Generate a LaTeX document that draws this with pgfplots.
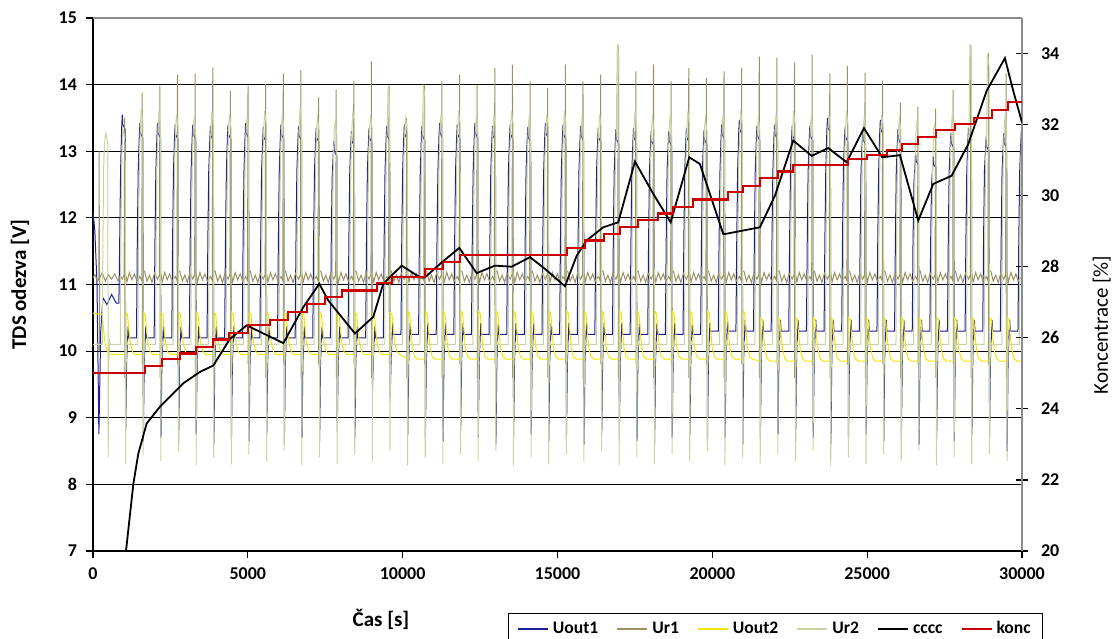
\documentclass[border=0pt]{standalone}
\usepackage{fontspec}
\setmainfont{Carlito}
\usepackage{pgfplots}
\pgfplotsset{compat=1.18}
\usetikzlibrary{calc}
\definecolor{cUoa}{RGB}{30,30,150}
\definecolor{cUra}{RGB}{155,145,100}
\definecolor{cUob}{RGB}{240,230,0}
\definecolor{cUrb}{RGB}{200,212,160}
\definecolor{ckonc}{RGB}{204,0,0}
\newcommand\tickfont{\bfseries\fontsize{9}{10}\selectfont}
\newcommand\labfont{\fontsize{10.5}{12}\selectfont}
\begin{document}
\begin{tikzpicture}
\begin{axis}[name=ax,
 scale only axis, width=464.5pt, height=266.5pt,
 xmin=0, xmax=30000, ymin=7, ymax=15,
 axis x line*=bottom, axis y line*=left,
 axis line style={black, line width=0.6pt},
 xtick={0,5000,...,30000}, ytick={7,...,15},
 extra y ticks={8,...,14}, extra y tick labels={},
 extra y tick style={grid=major},
 major grid style={black, line width=0.6pt},
 tick align=outside, major tick length=3.5pt,
 tick style={black, line width=0.6pt},
 /pgf/number format/assume math mode=true,
 /pgf/number format/1000 sep={},
 scaled x ticks=false,
 ticklabel style={font=\tickfont},
 xticklabel style={yshift=-1.5pt},
 yticklabel style={xshift=-1pt},
 every axis x label/.style={at={(axis description cs:0.31,-0.129)}, anchor=center, font=\labfont},
 every axis y label/.style={at={(axis description cs:-0.0786,0.5)}, rotate=90, anchor=center, font=\labfont},
 xlabel={\bfseries Čas [s]},
 ylabel={\bfseries TDS odezva [V]},
]
% Uout1
\addplot[cUoa, line width=0.5pt] coordinates {
(0,12.1)(60,11.8)(130,11.0)(190,8.75)(250,10.3)(320,10.8)(450,10.7)(600,10.85)(750,10.72)
(836,10.72)(861,11.6)(891,12.7)(926,13.35)(946,13.55)(961,13.4)(1041,13.33)(1056,8.8)(1086,9.85)(1136,10.37)(1156,10.2)
(1405,10.2)(1430,11.6)(1460,12.7)(1495,13.22)(1515,13.42)(1530,13.27)(1610,13.2)(1625,8.65)(1655,9.85)(1705,10.37)(1725,10.2)
(1975,10.2)(2000,11.6)(2030,12.7)(2065,13.22)(2085,13.42)(2100,13.27)(2180,13.2)(2195,8.7)(2225,9.85)(2275,10.37)(2295,10.2)
(2544,10.2)(2569,11.6)(2599,12.7)(2634,13.2)(2654,13.4)(2669,13.25)(2749,13.18)(2764,8.6)(2794,9.85)(2844,10.37)(2864,10.2)
(3113,10.2)(3138,11.6)(3168,12.7)(3203,13.2)(3223,13.4)(3238,13.25)(3318,13.18)(3333,8.75)(3363,9.85)(3413,10.37)(3433,10.2)
(3683,10.2)(3708,11.6)(3738,12.7)(3773,13.18)(3793,13.38)(3808,13.23)(3888,13.16)(3903,8.6)(3933,9.85)(3983,10.37)(4003,10.2)
(4252,10.2)(4277,11.6)(4307,12.7)(4342,13.2)(4362,13.4)(4377,13.25)(4457,13.18)(4472,8.7)(4502,9.85)(4552,10.37)(4572,10.2)
(4821,10.2)(4846,11.6)(4876,12.7)(4911,13.22)(4931,13.42)(4946,13.27)(5026,13.2)(5041,8.65)(5071,9.85)(5121,10.37)(5141,10.2)
(5390,10.2)(5415,11.6)(5445,12.7)(5480,13.16)(5500,13.36)(5515,13.21)(5595,13.14)(5610,8.75)(5640,9.85)(5690,10.37)(5710,10.2)
(5960,10.2)(5985,11.6)(6015,12.7)(6050,13.2)(6070,13.4)(6085,13.25)(6165,13.18)(6180,8.6)(6210,9.85)(6260,10.37)(6280,10.2)
(6529,10.2)(6554,11.6)(6584,12.7)(6619,13.18)(6639,13.38)(6654,13.23)(6734,13.16)(6749,8.7)(6779,9.85)(6829,10.37)(6849,10.2)
(7098,10.2)(7123,11.6)(7153,12.7)(7188,13.15)(7208,13.35)(7223,13.2)(7303,13.13)(7318,8.65)(7348,9.85)(7398,10.37)(7418,10.2)
(7668,10.2)(7693,11.6)(7723,12.6)(7758,12.95)(7778,13.15)(7793,13.0)(7873,12.93)(7888,8.8)(7918,9.85)(7968,10.37)(7988,10.2)
(8237,10.2)(8262,11.6)(8292,12.7)(8327,13.1)(8347,13.3)(8362,13.15)(8442,13.08)(8457,8.7)(8487,9.85)(8537,10.37)(8557,10.2)
(8806,10.2)(8831,11.6)(8861,12.7)(8896,13.15)(8916,13.35)(8931,13.2)(9011,13.13)(9026,9.45)(9056,9.9)(9106,10.37)(9126,10.2)
(9376,10.2)(9401,11.6)(9431,12.7)(9466,13.18)(9486,13.38)(9501,13.23)(9581,13.16)(9596,9.3)(9626,9.85)(9676,10.42)(9696,10.25)
(9945,10.25)(9970,11.6)(10000,12.7)(10035,13.2)(10055,13.4)(10070,13.25)(10150,13.18)(10165,8.75)(10195,9.85)(10245,10.42)(10265,10.25)
(10514,10.25)(10539,11.6)(10569,12.7)(10604,13.18)(10624,13.38)(10639,13.23)(10719,13.16)(10734,8.7)(10764,9.85)(10814,10.42)(10834,10.25)
(11083,10.25)(11108,11.6)(11138,12.7)(11173,13.22)(11193,13.42)(11208,13.27)(11288,13.2)(11303,8.65)(11333,9.85)(11383,10.42)(11403,10.25)
(11653,10.25)(11678,11.6)(11708,12.7)(11743,13.2)(11763,13.4)(11778,13.25)(11858,13.18)(11873,8.8)(11903,9.85)(11953,10.42)(11973,10.25)
(12222,10.25)(12247,11.6)(12277,12.7)(12312,13.22)(12332,13.42)(12347,13.27)(12427,13.2)(12442,8.7)(12472,9.85)(12522,10.42)(12542,10.25)
(12791,10.25)(12816,11.6)(12846,12.7)(12881,13.18)(12901,13.38)(12916,13.23)(12996,13.16)(13011,8.6)(13041,9.85)(13091,10.42)(13111,10.25)
(13361,10.25)(13386,11.6)(13416,12.7)(13451,13.2)(13471,13.4)(13486,13.25)(13566,13.18)(13581,8.7)(13611,9.85)(13661,10.42)(13681,10.25)
(13930,10.25)(13955,11.6)(13985,12.7)(14020,13.16)(14040,13.36)(14055,13.21)(14135,13.14)(14150,8.75)(14180,9.85)(14230,10.42)(14250,10.25)
(14499,10.25)(14524,11.6)(14554,12.7)(14589,13.22)(14609,13.42)(14624,13.27)(14704,13.2)(14719,8.65)(14749,9.85)(14799,10.42)(14819,10.25)
(15069,10.25)(15094,11.6)(15124,12.7)(15159,13.2)(15179,13.4)(15194,13.25)(15274,13.18)(15289,8.7)(15319,9.85)(15369,10.42)(15389,10.25)
(15638,10.25)(15663,11.6)(15693,12.7)(15728,13.18)(15748,13.38)(15763,13.23)(15843,13.16)(15858,8.6)(15888,9.85)(15938,10.42)(15958,10.25)
(16207,10.25)(16232,11.6)(16262,12.7)(16297,13.15)(16317,13.35)(16332,13.2)(16412,13.13)(16427,8.75)(16457,9.85)(16507,10.42)(16527,10.25)
(16776,10.25)(16801,11.6)(16831,12.7)(16866,13.13)(16886,13.33)(16901,13.18)(16981,13.11)(16996,8.7)(17026,9.85)(17076,10.42)(17096,10.25)
(17346,10.25)(17371,11.6)(17401,12.7)(17436,13.15)(17456,13.35)(17471,13.2)(17551,13.13)(17566,8.65)(17596,9.85)(17646,10.42)(17666,10.25)
(17915,10.25)(17940,11.6)(17970,12.7)(18005,13.1)(18025,13.3)(18040,13.15)(18120,13.08)(18135,8.6)(18165,9.85)(18215,10.42)(18235,10.25)
(18484,10.25)(18509,11.6)(18539,12.7)(18574,13.1)(18594,13.3)(18609,13.15)(18689,13.08)(18704,8.7)(18734,9.85)(18784,10.42)(18804,10.25)
(19054,10.25)(19079,11.6)(19109,12.7)(19144,13.15)(19164,13.35)(19179,13.2)(19259,13.13)(19274,8.75)(19304,9.85)(19354,10.42)(19374,10.25)
(19623,10.25)(19648,11.6)(19678,12.7)(19713,13.12)(19733,13.32)(19748,13.17)(19828,13.1)(19843,8.65)(19873,9.85)(19923,10.42)(19943,10.3)
(20192,10.3)(20217,11.6)(20247,12.7)(20282,13.2)(20302,13.4)(20317,13.25)(20397,13.18)(20412,8.7)(20442,9.9)(20492,10.47)(20512,10.3)
(20762,10.3)(20787,11.6)(20817,12.7)(20852,13.27)(20872,13.47)(20887,13.32)(20967,13.25)(20982,8.6)(21012,9.9)(21062,10.47)(21082,10.3)
(21331,10.3)(21356,11.6)(21386,12.7)(21421,13.18)(21441,13.38)(21456,13.23)(21536,13.16)(21551,8.7)(21581,9.9)(21631,10.47)(21651,10.3)
(21900,10.3)(21925,11.6)(21955,12.7)(21990,13.2)(22010,13.4)(22025,13.25)(22105,13.18)(22120,8.75)(22150,9.9)(22200,10.47)(22220,10.3)
(22469,10.3)(22494,11.6)(22524,12.7)(22559,13.18)(22579,13.38)(22594,13.23)(22674,13.16)(22689,8.65)(22719,9.9)(22769,10.47)(22789,10.3)
(23039,10.3)(23064,11.6)(23094,12.7)(23129,13.18)(23149,13.38)(23164,13.23)(23244,13.16)(23259,8.7)(23289,9.9)(23339,10.47)(23359,10.3)
(23608,10.3)(23633,11.6)(23663,12.7)(23698,13.3)(23718,13.5)(23733,13.35)(23813,13.28)(23828,8.6)(23858,9.9)(23908,10.47)(23928,10.3)
(24177,10.3)(24202,11.6)(24232,12.7)(24267,13.16)(24287,13.36)(24302,13.21)(24382,13.14)(24397,8.7)(24427,9.9)(24477,10.47)(24497,10.3)
(24747,10.3)(24772,11.6)(24802,12.7)(24837,13.12)(24857,13.32)(24872,13.17)(24952,13.1)(24967,8.75)(24997,9.9)(25047,10.47)(25067,10.3)
(25316,10.3)(25341,11.6)(25371,12.7)(25406,13.27)(25426,13.47)(25441,13.32)(25521,13.25)(25536,8.65)(25566,9.9)(25616,10.47)(25636,10.3)
(25885,10.3)(25910,11.6)(25940,12.7)(25975,13.13)(25995,13.33)(26010,13.18)(26090,13.11)(26105,8.7)(26135,9.9)(26185,10.47)(26205,10.3)
(26455,10.3)(26480,11.6)(26510,12.5)(26545,12.8)(26565,12.97)(26580,12.85)(26660,12.8)(26675,8.6)(26705,9.9)(26755,10.47)(26775,10.3)
(27024,10.3)(27049,11.6)(27079,12.5)(27114,12.75)(27134,12.92)(27149,12.8)(27229,12.75)(27244,8.7)(27274,9.9)(27324,10.47)(27344,10.3)
(27593,10.3)(27618,11.6)(27648,12.7)(27683,13.07)(27703,13.27)(27718,13.12)(27798,13.05)(27813,8.65)(27843,9.9)(27893,10.47)(27913,10.3)
(28162,10.3)(28187,11.6)(28217,12.7)(28252,13.15)(28272,13.35)(28287,13.2)(28367,13.13)(28382,8.75)(28412,9.9)(28462,10.47)(28482,10.3)
(28732,10.3)(28757,11.6)(28787,12.7)(28822,13.02)(28842,13.22)(28857,13.07)(28937,13.0)(28952,8.7)(28982,9.9)(29032,10.47)(29052,10.3)
(29301,10.3)(29326,11.6)(29356,12.7)(29391,13.07)(29411,13.27)(29426,13.12)(29506,13.05)(29521,8.5)(29551,9.9)(29601,10.47)(29621,10.3)
(29870,10.3)(29895,11.6)(29925,12.7)(29960,13.12)(29980,13.32)(29995,13.17)(30065,13.1)
};
% Ur1
\addplot[cUra, line width=0.5pt] coordinates {
(0,11.1)(60,11.15)(140,11.05)(190,11.1)(200,13.0)(207,10.0)(215,11.1)(300,11.18)(400,11.05)(500,11.15)(600,11.08)(700,11.16)(800,11.06)(900,11.12)
(946,11.08)(1006,11.15)(1021,13.5)(1028,9.6)(1038,11.2)(1096,11.04)(1176,11.18)(1256,11.07)(1336,11.16)(1416,11.05)
(1515,11.12)(1575,11.06)(1590,13.88)(1597,9.8)(1607,11.2)(1665,11.2)(1745,11.05)(1825,11.14)(1905,11.03)(1985,11.17)
(2085,11.08)(2145,11.15)(2160,13.98)(2167,9.6)(2177,11.2)(2235,11.04)(2315,11.18)(2395,11.07)(2475,11.16)(2555,11.05)
(2654,11.12)(2714,11.06)(2729,14.15)(2736,9.8)(2746,11.2)(2804,11.2)(2884,11.05)(2964,11.14)(3044,11.03)(3124,11.17)
(3223,11.08)(3283,11.15)(3298,14.17)(3305,9.6)(3315,11.2)(3373,11.04)(3453,11.18)(3533,11.07)(3613,11.16)(3693,11.05)
(3793,11.12)(3853,11.06)(3868,14.26)(3875,9.8)(3885,11.2)(3943,11.2)(4023,11.05)(4103,11.14)(4183,11.03)(4263,11.17)
(4362,11.08)(4422,11.15)(4437,13.91)(4444,9.6)(4454,11.2)(4512,11.04)(4592,11.18)(4672,11.07)(4752,11.16)(4832,11.05)
(4931,11.12)(4991,11.06)(5006,13.98)(5013,9.8)(5023,11.2)(5081,11.2)(5161,11.05)(5241,11.14)(5321,11.03)(5401,11.17)
(5500,11.08)(5560,11.15)(5575,14.01)(5582,9.6)(5592,11.2)(5650,11.04)(5730,11.18)(5810,11.07)(5890,11.16)(5970,11.05)
(6070,11.12)(6130,11.06)(6145,14.17)(6152,9.8)(6162,11.2)(6220,11.2)(6300,11.05)(6380,11.14)(6460,11.03)(6540,11.17)
(6639,11.08)(6699,11.15)(6714,14.22)(6721,9.6)(6731,11.2)(6789,11.04)(6869,11.18)(6949,11.07)(7029,11.16)(7109,11.05)
(7208,11.12)(7268,11.06)(7283,13.81)(7290,9.8)(7300,11.2)(7358,11.2)(7438,11.05)(7518,11.14)(7598,11.03)(7678,11.17)
(7778,11.08)(7838,11.15)(7853,13.93)(7860,9.6)(7870,11.2)(7928,11.04)(8008,11.18)(8088,11.07)(8168,11.16)(8248,11.05)
(8347,11.12)(8407,11.06)(8422,14.05)(8429,9.8)(8439,11.2)(8497,11.2)(8577,11.05)(8657,11.14)(8737,11.03)(8817,11.17)
(8916,11.08)(8976,11.15)(8991,14.35)(8998,9.6)(9008,11.2)(9066,11.04)(9146,11.18)(9226,11.07)(9306,11.16)(9386,11.05)
(9486,11.12)(9546,11.06)(9561,13.98)(9568,9.8)(9578,11.2)(9636,11.2)(9716,11.05)(9796,11.14)(9876,11.03)(9956,11.17)
(10055,11.08)(10115,11.15)(10130,13.5)(10137,9.6)(10147,11.2)(10205,11.04)(10285,11.18)(10365,11.07)(10445,11.16)(10525,11.05)
(10624,11.12)(10684,11.06)(10699,14.0)(10706,9.8)(10716,11.2)(10774,11.2)(10854,11.05)(10934,11.14)(11014,11.03)(11094,11.17)
(11193,11.08)(11253,11.15)(11268,14.05)(11275,9.6)(11285,11.2)(11343,11.04)(11423,11.18)(11503,11.07)(11583,11.16)(11663,11.05)
(11763,11.12)(11823,11.06)(11838,14.15)(11845,9.8)(11855,11.2)(11913,11.2)(11993,11.05)(12073,11.14)(12153,11.03)(12233,11.17)
(12332,11.08)(12392,11.15)(12407,14.0)(12414,9.6)(12424,11.2)(12482,11.04)(12562,11.18)(12642,11.07)(12722,11.16)(12802,11.05)
(12901,11.12)(12961,11.06)(12976,14.25)(12983,9.8)(12993,11.2)(13051,11.2)(13131,11.05)(13211,11.14)(13291,11.03)(13371,11.17)
(13471,11.08)(13531,11.15)(13546,14.3)(13553,9.6)(13563,11.2)(13621,11.04)(13701,11.18)(13781,11.07)(13861,11.16)(13941,11.05)
(14040,11.12)(14100,11.06)(14115,14.05)(14122,9.8)(14132,11.2)(14190,11.2)(14270,11.05)(14350,11.14)(14430,11.03)(14510,11.17)
(14609,11.08)(14669,11.15)(14684,13.95)(14691,9.6)(14701,11.2)(14759,11.04)(14839,11.18)(14919,11.07)(14999,11.16)(15079,11.05)
(15179,11.12)(15239,11.06)(15254,14.3)(15261,9.8)(15271,11.2)(15329,11.2)(15409,11.05)(15489,11.14)(15569,11.03)(15649,11.17)
(15748,11.08)(15808,11.15)(15823,14.05)(15830,9.6)(15840,11.2)(15898,11.04)(15978,11.18)(16058,11.07)(16138,11.16)(16218,11.05)
(16317,11.12)(16377,11.06)(16392,14.15)(16399,9.8)(16409,11.2)(16467,11.2)(16547,11.05)(16627,11.14)(16707,11.03)(16787,11.17)
(16886,11.08)(16946,11.15)(16961,14.6)(16968,9.6)(16978,11.2)(17036,11.04)(17116,11.18)(17196,11.07)(17276,11.16)(17356,11.05)
(17456,11.12)(17516,11.06)(17531,14.2)(17538,9.8)(17548,11.2)(17606,11.2)(17686,11.05)(17766,11.14)(17846,11.03)(17926,11.17)
(18025,11.08)(18085,11.15)(18100,14.3)(18107,9.6)(18117,11.2)(18175,11.04)(18255,11.18)(18335,11.07)(18415,11.16)(18495,11.05)
(18594,11.12)(18654,11.06)(18669,14.05)(18676,9.8)(18686,11.2)(18744,11.2)(18824,11.05)(18904,11.14)(18984,11.03)(19064,11.17)
(19164,11.08)(19224,11.15)(19239,14.25)(19246,9.6)(19256,11.2)(19314,11.04)(19394,11.18)(19474,11.07)(19554,11.16)(19634,11.05)
(19733,11.12)(19793,11.06)(19808,14.1)(19815,9.8)(19825,11.2)(19883,11.2)(19963,11.05)(20043,11.14)(20123,11.03)(20203,11.17)
(20302,11.08)(20362,11.15)(20377,14.2)(20384,9.6)(20394,11.2)(20452,11.04)(20532,11.18)(20612,11.07)(20692,11.16)(20772,11.05)
(20872,11.12)(20932,11.06)(20947,14.25)(20954,9.8)(20964,11.2)(21022,11.2)(21102,11.05)(21182,11.14)(21262,11.03)(21342,11.17)
(21441,11.08)(21501,11.15)(21516,14.42)(21523,9.6)(21533,11.2)(21591,11.04)(21671,11.18)(21751,11.07)(21831,11.16)(21911,11.05)
(22010,11.12)(22070,11.06)(22085,14.4)(22092,9.8)(22102,11.2)(22160,11.2)(22240,11.05)(22320,11.14)(22400,11.03)(22480,11.17)
(22579,11.08)(22639,11.15)(22654,14.33)(22661,9.6)(22671,11.2)(22729,11.04)(22809,11.18)(22889,11.07)(22969,11.16)(23049,11.05)
(23149,11.12)(23209,11.06)(23224,14.45)(23231,9.8)(23241,11.2)(23299,11.2)(23379,11.05)(23459,11.14)(23539,11.03)(23619,11.17)
(23718,11.08)(23778,11.15)(23793,14.17)(23800,9.6)(23810,11.2)(23868,11.04)(23948,11.18)(24028,11.07)(24108,11.16)(24188,11.05)
(24287,11.12)(24347,11.06)(24362,14.28)(24369,9.8)(24379,11.2)(24437,11.2)(24517,11.05)(24597,11.14)(24677,11.03)(24757,11.17)
(24857,11.08)(24917,11.15)(24932,14.18)(24939,9.6)(24949,11.2)(25007,11.04)(25087,11.18)(25167,11.07)(25247,11.16)(25327,11.05)
(25426,11.12)(25486,11.06)(25501,14.06)(25508,9.8)(25518,11.2)(25576,11.2)(25656,11.05)(25736,11.14)(25816,11.03)(25896,11.17)
(25995,11.08)(26055,11.15)(26070,13.73)(26077,9.6)(26087,11.2)(26145,11.04)(26225,11.18)(26305,11.07)(26385,11.16)(26465,11.05)
(26565,11.12)(26625,11.06)(26640,13.67)(26647,9.8)(26657,11.2)(26715,11.2)(26795,11.05)(26875,11.14)(26955,11.03)(27035,11.17)
(27134,11.08)(27194,11.15)(27209,13.64)(27216,9.6)(27226,11.2)(27284,11.04)(27364,11.18)(27444,11.07)(27524,11.16)(27604,11.05)
(27703,11.12)(27763,11.06)(27778,13.92)(27785,9.8)(27795,11.2)(27853,11.2)(27933,11.05)(28013,11.14)(28093,11.03)(28173,11.17)
(28272,11.08)(28332,11.15)(28347,14.6)(28354,9.6)(28364,11.2)(28422,11.04)(28502,11.18)(28582,11.07)(28662,11.16)(28742,11.05)
(28842,11.12)(28902,11.06)(28917,14.47)(28924,9.8)(28934,11.2)(28992,11.2)(29072,11.05)(29152,11.14)(29232,11.03)(29312,11.17)
(29411,11.08)(29471,11.15)(29486,14.17)(29493,9.6)(29503,11.2)(29561,11.04)(29641,11.18)(29721,11.07)(29801,11.16)(29881,11.05)
(29980,11.12)(29990,13.32)(29995,9.8)(30000,11.1)
};
% Uout2
\addplot[cUob, line width=0.5pt] coordinates {
(0,10.57)(300,10.55)(340,10.33)(390,10.12)(460,9.99)(550,9.95)
(1056,9.95)(1064,10.58)(1116,10.55)(1156,10.33)(1206,10.12)(1276,9.99)(1366,9.95)
(1625,9.95)(1633,10.58)(1685,10.55)(1725,10.33)(1775,10.12)(1845,9.99)(1935,9.95)
(2195,9.95)(2203,10.58)(2255,10.55)(2295,10.33)(2345,10.12)(2415,9.99)(2505,9.95)
(2764,9.95)(2772,10.58)(2824,10.55)(2864,10.33)(2914,10.12)(2984,9.99)(3074,9.95)
(3333,9.95)(3341,10.58)(3393,10.55)(3433,10.33)(3483,10.12)(3553,9.99)(3643,9.95)
(3903,9.95)(3911,10.58)(3963,10.55)(4003,10.33)(4053,10.12)(4123,9.99)(4213,9.95)
(4472,9.95)(4480,10.58)(4532,10.55)(4572,10.33)(4622,10.12)(4692,9.99)(4782,9.95)
(5041,9.95)(5049,10.58)(5101,10.55)(5141,10.33)(5191,10.12)(5261,9.99)(5351,9.95)
(5610,9.95)(5618,10.58)(5670,10.55)(5710,10.33)(5760,10.12)(5830,9.99)(5920,9.95)
(6180,9.95)(6188,10.58)(6240,10.55)(6280,10.33)(6330,10.12)(6400,9.99)(6490,9.95)
(6749,9.95)(6757,10.58)(6809,10.55)(6849,10.33)(6899,10.12)(6969,9.99)(7059,9.95)
(7318,9.95)(7326,10.58)(7378,10.55)(7418,10.33)(7468,10.12)(7538,9.99)(7628,9.95)
(7888,9.95)(7896,10.58)(7948,10.55)(7988,10.33)(8038,10.12)(8108,9.99)(8198,9.95)
(8457,9.95)(8465,10.58)(8517,10.55)(8557,10.33)(8607,10.12)(8677,9.99)(8767,9.95)
(9026,9.95)(9034,10.58)(9086,10.55)(9126,10.33)(9176,10.12)(9246,9.99)(9336,9.95)
(9596,9.95)(9604,10.58)(9656,10.55)(9696,10.33)(9746,10.12)(9816,9.99)(9906,9.95)
(10165,9.88)(10173,10.6)(10225,10.57)(10265,10.35)(10315,10.05)(10385,9.92)(10475,9.88)
(10734,9.88)(10742,10.6)(10794,10.57)(10834,10.35)(10884,10.05)(10954,9.92)(11044,9.88)
(11303,9.88)(11311,10.6)(11363,10.57)(11403,10.35)(11453,10.05)(11523,9.92)(11613,9.88)
(11873,9.88)(11881,10.6)(11933,10.57)(11973,10.35)(12023,10.05)(12093,9.92)(12183,9.88)
(12442,9.88)(12450,10.6)(12502,10.57)(12542,10.35)(12592,10.05)(12662,9.92)(12752,9.88)
(13011,9.88)(13019,10.6)(13071,10.57)(13111,10.35)(13161,10.05)(13231,9.92)(13321,9.88)
(13581,9.88)(13589,10.6)(13641,10.57)(13681,10.35)(13731,10.05)(13801,9.92)(13891,9.88)
(14150,9.88)(14158,10.6)(14210,10.57)(14250,10.35)(14300,10.05)(14370,9.92)(14460,9.88)
(14719,9.88)(14727,10.6)(14779,10.57)(14819,10.35)(14869,10.05)(14939,9.92)(15029,9.88)
(15289,9.88)(15297,10.6)(15349,10.57)(15389,10.35)(15439,10.05)(15509,9.92)(15599,9.88)
(15858,9.88)(15866,10.6)(15918,10.57)(15958,10.35)(16008,10.05)(16078,9.92)(16168,9.88)
(16427,9.88)(16435,10.6)(16487,10.57)(16527,10.35)(16577,10.05)(16647,9.92)(16737,9.88)
(16996,9.88)(17004,10.6)(17056,10.57)(17096,10.35)(17146,10.05)(17216,9.92)(17306,9.88)
(17566,9.88)(17574,10.6)(17626,10.57)(17666,10.35)(17716,10.05)(17786,9.92)(17876,9.88)
(18135,9.88)(18143,10.6)(18195,10.57)(18235,10.35)(18285,10.05)(18355,9.92)(18445,9.88)
(18704,9.88)(18712,10.6)(18764,10.57)(18804,10.35)(18854,10.05)(18924,9.92)(19014,9.88)
(19274,9.88)(19282,10.6)(19334,10.57)(19374,10.35)(19424,10.05)(19494,9.92)(19584,9.88)
(19843,9.88)(19851,10.6)(19903,10.57)(19943,10.35)(19993,10.05)(20063,9.92)(20153,9.88)
(20412,9.88)(20420,10.6)(20472,10.57)(20512,10.35)(20562,10.05)(20632,9.92)(20722,9.88)
(20982,9.88)(20990,10.6)(21042,10.57)(21082,10.35)(21132,10.05)(21202,9.92)(21292,9.88)
(21551,9.85)(21559,10.5)(21611,10.47)(21651,10.25)(21701,10.02)(21771,9.89)(21861,9.85)
(22120,9.85)(22128,10.5)(22180,10.47)(22220,10.25)(22270,10.02)(22340,9.89)(22430,9.85)
(22689,9.85)(22697,10.5)(22749,10.47)(22789,10.25)(22839,10.02)(22909,9.89)(22999,9.85)
(23259,9.85)(23267,10.5)(23319,10.47)(23359,10.25)(23409,10.02)(23479,9.89)(23569,9.85)
(23828,9.85)(23836,10.5)(23888,10.47)(23928,10.25)(23978,10.02)(24048,9.89)(24138,9.85)
(24397,9.85)(24405,10.5)(24457,10.47)(24497,10.25)(24547,10.02)(24617,9.89)(24707,9.85)
(24967,9.85)(24975,10.5)(25027,10.47)(25067,10.25)(25117,10.02)(25187,9.89)(25277,9.85)
(25536,9.85)(25544,10.5)(25596,10.47)(25636,10.25)(25686,10.02)(25756,9.89)(25846,9.85)
(26105,9.85)(26113,10.5)(26165,10.47)(26205,10.25)(26255,10.02)(26325,9.89)(26415,9.85)
(26675,9.85)(26683,10.5)(26735,10.47)(26775,10.25)(26825,10.02)(26895,9.89)(26985,9.85)
(27244,9.85)(27252,10.5)(27304,10.47)(27344,10.25)(27394,10.02)(27464,9.89)(27554,9.85)
(27813,9.85)(27821,10.5)(27873,10.47)(27913,10.25)(27963,10.02)(28033,9.89)(28123,9.85)
(28382,9.85)(28390,10.5)(28442,10.47)(28482,10.25)(28532,10.02)(28602,9.89)(28692,9.85)
(28952,9.85)(28960,10.5)(29012,10.47)(29052,10.25)(29102,10.02)(29172,9.89)(29262,9.85)
(29521,9.85)(29529,10.5)(29581,10.47)(29621,10.25)(29671,10.02)(29741,9.89)(29831,9.85)
(30000,9.85)
};
% Ur2
\addplot[cUrb, line width=0.5pt] coordinates {
(0,10.1)(300,10.1)(320,11.7)(350,12.9)(390,13.2)(420,13.27)(480,13.1)(490,8.4)(503,9.7)(535,10.15)(560,10.1)
(881,10.1)(901,11.7)(931,12.9)(961,13.35)(991,13.3)(1041,13.1)(1051,8.3)(1064,9.7)(1096,10.15)(1121,10.1)
(1450,10.1)(1470,11.7)(1500,12.9)(1530,13.35)(1560,13.65)(1610,13.45)(1620,8.45)(1633,9.7)(1665,10.15)(1690,10.1)
(2020,10.1)(2040,11.7)(2070,12.9)(2100,13.35)(2130,13.6)(2180,13.4)(2190,8.35)(2203,9.7)(2235,10.15)(2260,10.1)
(2589,10.1)(2609,11.7)(2639,12.9)(2669,13.35)(2699,13.55)(2749,13.35)(2759,8.5)(2772,9.7)(2804,10.15)(2829,10.1)
(3158,10.1)(3178,11.7)(3208,12.9)(3238,13.35)(3268,13.5)(3318,13.3)(3328,8.28)(3341,9.7)(3373,10.15)(3398,10.1)
(3728,10.1)(3748,11.7)(3778,12.9)(3808,13.35)(3838,13.6)(3888,13.4)(3898,8.4)(3911,9.7)(3943,10.15)(3968,10.1)
(4297,10.1)(4317,11.7)(4347,12.9)(4377,13.35)(4407,13.55)(4457,13.35)(4467,8.3)(4480,9.7)(4512,10.15)(4537,10.1)
(4866,10.1)(4886,11.7)(4916,12.9)(4946,13.35)(4976,13.5)(5026,13.3)(5036,8.45)(5049,9.7)(5081,10.15)(5106,10.1)
(5435,10.1)(5455,11.7)(5485,12.9)(5515,13.35)(5545,13.6)(5595,13.4)(5605,8.35)(5618,9.7)(5650,10.15)(5675,10.1)
(6005,10.1)(6025,11.7)(6055,12.9)(6085,13.35)(6115,13.55)(6165,13.35)(6175,8.5)(6188,9.7)(6220,10.15)(6245,10.1)
(6574,10.1)(6594,11.7)(6624,12.9)(6654,13.35)(6684,13.65)(6734,13.45)(6744,8.28)(6757,9.7)(6789,10.15)(6814,10.1)
(7143,10.1)(7163,11.7)(7193,12.9)(7223,13.35)(7253,13.5)(7303,13.3)(7313,8.4)(7326,9.7)(7358,10.15)(7383,10.1)
(7713,10.1)(7733,11.7)(7763,12.9)(7793,13.35)(7823,13.45)(7873,13.25)(7883,8.3)(7896,9.7)(7928,10.15)(7953,10.1)
(8282,10.1)(8302,11.7)(8332,12.9)(8362,13.35)(8392,13.6)(8442,13.4)(8452,8.45)(8465,9.7)(8497,10.15)(8522,10.1)
(8851,10.1)(8871,11.7)(8901,12.9)(8931,13.35)(8961,13.55)(9011,13.35)(9021,8.35)(9034,9.7)(9066,10.15)(9091,10.1)
(9421,10.1)(9441,11.7)(9471,12.9)(9501,13.35)(9531,13.98)(9581,13.78)(9591,8.5)(9604,9.7)(9636,10.15)(9661,10.1)
(9990,10.1)(10010,11.7)(10040,12.9)(10070,13.35)(10100,13.5)(10150,13.3)(10160,8.28)(10173,9.7)(10205,10.15)(10230,10.1)
(10559,10.1)(10579,11.7)(10609,12.9)(10639,13.35)(10669,14.0)(10719,13.8)(10729,8.4)(10742,9.7)(10774,10.15)(10799,10.1)
(11128,10.1)(11148,11.7)(11178,12.9)(11208,13.35)(11238,13.55)(11288,13.35)(11298,8.3)(11311,9.7)(11343,10.15)(11368,10.1)
(11698,10.1)(11718,11.7)(11748,12.9)(11778,13.35)(11808,13.6)(11858,13.4)(11868,8.45)(11881,9.7)(11913,10.15)(11938,10.1)
(12267,10.1)(12287,11.7)(12317,12.9)(12347,13.35)(12377,13.5)(12427,13.3)(12437,8.35)(12450,9.7)(12482,10.15)(12507,10.1)
(12836,10.1)(12856,11.7)(12886,12.9)(12916,13.35)(12946,13.55)(12996,13.35)(13006,8.5)(13019,9.7)(13051,10.15)(13076,10.1)
(13406,10.1)(13426,11.7)(13456,12.9)(13486,13.35)(13516,13.6)(13566,13.4)(13576,8.28)(13589,9.7)(13621,10.15)(13646,10.1)
(13975,10.1)(13995,11.7)(14025,12.9)(14055,13.35)(14085,13.5)(14135,13.3)(14145,8.4)(14158,9.7)(14190,10.15)(14215,10.1)
(14544,10.1)(14564,11.7)(14594,12.9)(14624,13.35)(14654,13.55)(14704,13.35)(14714,8.3)(14727,9.7)(14759,10.15)(14784,10.1)
(15114,10.1)(15134,11.7)(15164,12.9)(15194,13.35)(15224,13.6)(15274,13.4)(15284,8.45)(15297,9.7)(15329,10.15)(15354,10.1)
(15683,10.1)(15703,11.7)(15733,12.9)(15763,13.35)(15793,13.5)(15843,13.3)(15853,8.35)(15866,9.7)(15898,10.15)(15923,10.1)
(16252,10.1)(16272,11.7)(16302,12.9)(16332,13.35)(16362,13.55)(16412,13.35)(16422,8.5)(16435,9.7)(16467,10.15)(16492,10.1)
(16821,10.1)(16841,11.7)(16871,12.9)(16901,13.35)(16931,14.6)(16981,14.4)(16991,8.28)(17004,9.7)(17036,10.15)(17061,10.1)
(17391,10.1)(17411,11.7)(17441,12.9)(17471,13.35)(17501,13.6)(17551,13.4)(17561,8.4)(17574,9.7)(17606,10.15)(17631,10.1)
(17960,10.1)(17980,11.7)(18010,12.9)(18040,13.35)(18070,13.5)(18120,13.3)(18130,8.3)(18143,9.7)(18175,10.15)(18200,10.1)
(18529,10.1)(18549,11.7)(18579,12.9)(18609,13.35)(18639,13.55)(18689,13.35)(18699,8.45)(18712,9.7)(18744,10.15)(18769,10.1)
(19099,10.1)(19119,11.7)(19149,12.9)(19179,13.35)(19209,13.6)(19259,13.4)(19269,8.35)(19282,9.7)(19314,10.15)(19339,10.1)
(19668,10.1)(19688,11.7)(19718,12.9)(19748,13.35)(19778,13.5)(19828,13.3)(19838,8.5)(19851,9.7)(19883,10.15)(19908,10.1)
(20237,10.1)(20257,11.7)(20287,12.9)(20317,13.35)(20347,13.55)(20397,13.35)(20407,8.28)(20420,9.7)(20452,10.15)(20477,10.1)
(20807,10.1)(20827,11.7)(20857,12.9)(20887,13.35)(20917,13.6)(20967,13.4)(20977,8.4)(20990,9.7)(21022,10.15)(21047,10.1)
(21376,10.1)(21396,11.7)(21426,12.9)(21456,13.35)(21486,13.5)(21536,13.3)(21546,8.3)(21559,9.7)(21591,10.15)(21616,10.1)
(21945,10.1)(21965,11.7)(21995,12.9)(22025,13.35)(22055,13.55)(22105,13.35)(22115,8.45)(22128,9.7)(22160,10.15)(22185,10.1)
(22514,10.1)(22534,11.7)(22564,12.9)(22594,13.35)(22624,13.6)(22674,13.4)(22684,8.35)(22697,9.7)(22729,10.15)(22754,10.1)
(23084,10.1)(23104,11.7)(23134,12.9)(23164,13.35)(23194,13.5)(23244,13.3)(23254,8.5)(23267,9.7)(23299,10.15)(23324,10.1)
(23653,10.1)(23673,11.7)(23703,12.9)(23733,13.35)(23763,13.55)(23813,13.35)(23823,8.28)(23836,9.7)(23868,10.15)(23893,10.1)
(24222,10.1)(24242,11.7)(24272,12.9)(24302,13.35)(24332,13.6)(24382,13.4)(24392,8.4)(24405,9.7)(24437,10.15)(24462,10.1)
(24792,10.1)(24812,11.7)(24842,12.9)(24872,13.35)(24902,13.5)(24952,13.3)(24962,8.3)(24975,9.7)(25007,10.15)(25032,10.1)
(25361,10.1)(25381,11.7)(25411,12.9)(25441,13.35)(25471,13.55)(25521,13.35)(25531,8.45)(25544,9.7)(25576,10.15)(25601,10.1)
(25930,10.1)(25950,11.7)(25980,12.9)(26010,13.35)(26040,13.5)(26090,13.3)(26100,8.35)(26113,9.7)(26145,10.15)(26170,10.1)
(26500,10.1)(26520,11.7)(26550,12.9)(26580,13.35)(26610,13.45)(26660,13.25)(26670,8.5)(26683,9.7)(26715,10.15)(26740,10.1)
(27069,10.1)(27089,11.7)(27119,12.9)(27149,13.35)(27179,13.4)(27229,13.2)(27239,8.28)(27252,9.7)(27284,10.15)(27309,10.1)
(27638,10.1)(27658,11.7)(27688,12.9)(27718,13.35)(27748,13.55)(27798,13.35)(27808,8.4)(27821,9.7)(27853,10.15)(27878,10.1)
(28207,10.1)(28227,11.7)(28257,12.9)(28287,13.35)(28317,14.6)(28367,14.4)(28377,8.3)(28390,9.7)(28422,10.15)(28447,10.1)
(28777,10.1)(28797,11.7)(28827,12.9)(28857,13.35)(28887,14.47)(28937,14.27)(28947,8.45)(28960,9.7)(28992,10.15)(29017,10.1)
(29346,10.1)(29366,11.7)(29396,12.9)(29426,13.35)(29456,13.55)(29506,13.35)(29516,8.35)(29529,9.7)(29561,10.15)(29586,10.1)
(29915,10.1)(29935,11.7)(29965,12.9)(29995,13.35)(30025,13.5)
};
\end{axis}
\begin{axis}[
 scale only axis, width=464.5pt, height=266.5pt,
 at={(ax.south west)}, anchor=south west,
 xmin=0, xmax=30000, ymin=20, ymax=35,
 axis y line*=right, axis x line*=top,
 axis line style={black!45, line width=0.7pt},
 xtick=\empty,
 ytick={20,22,...,34},
 tick align=center, major tick length=6pt,
 ytick style={black, line width=0.6pt},
 /pgf/number format/assume math mode=true,
 yticklabel style={font=\tickfont, xshift=3pt},
 every axis y label/.style={at={(axis description cs:1.0858,0.424)}, rotate=90, anchor=center, font=\labfont},
 ylabel={Koncentrace [\%]},
 legend image code/.code={\draw[#1, line width=1pt] (0pt,0pt) -- (15pt,0pt);},
 legend style={at={(axis description cs:0.447,-0.116)}, anchor=north west,
   draw=black, line width=0.6pt, font=\bfseries\fontsize{8.8}{10}\selectfont,
   inner xsep=4pt, inner ysep=1.5pt, legend columns=6,
   nodes={text height=6.6pt, text depth=1.9pt},
   /tikz/every even column/.append style={column sep=7pt}},
 legend cell align=left,
]
\addlegendimage{cUoa}\addlegendentry{Uout1}
\addlegendimage{cUra}\addlegendentry{Ur1}
\addlegendimage{cUob}\addlegendentry{Uout2}
\addlegendimage{cUrb}\addlegendentry{Ur2}
\addplot[black, line width=0.9pt] coordinates {
(1000,19.5)(1066,20.0)(1302,21.88)(1463,22.74)(1734,23.59)(2163,24.06)(2703,24.53)(2916,24.72)(3455,25.04)(3885,25.22)(4424,25.97)(4963,26.35)(6145,25.85)(6791,26.86)(7307,27.52)(7598,27.05)(8460,26.12)(9051,26.59)(9374,27.52)(9968,28.03)(10560,27.7)(10720,27.7)(11205,28.08)(11828,28.53)(12390,27.82)(12981,28.03)(13520,28.0)(14111,28.27)(14595,27.94)(15241,27.45)(15619,28.31)(15942,28.74)(16478,29.11)(16962,29.25)(17501,30.96)(18092,30.05)(18654,29.25)(19255,31.08)(19600,30.89)(20353,28.92)(20407,28.92)(20998,29.02)(21537,29.11)(22022,30.0)(22613,31.55)(23207,31.12)(23743,31.34)(24337,30.94)(24896,31.9)(25487,31.08)(26058,31.14)(26649,29.3)(27134,30.33)(27728,30.56)(28264,31.45)(28858,32.95)(29449,33.87)(29717,32.95)(30000,32.06)
};
\addlegendentry{cccc}
\addplot[ckonc, line width=1.1pt, const plot] coordinates {
(0,25.0)(1679,25.2)(2218,25.4)(2809,25.56)(3326,25.74)(3885,25.95)(4401,26.14)(5015,26.35)(5715,26.5)(6306,26.72)(6900,26.94)(7491,27.14)(8031,27.33)(9161,27.54)(9645,27.72)(10720,27.94)(11311,28.13)(11851,28.33)(15306,28.53)(15887,28.74)(16500,28.92)(17017,29.11)(17608,29.32)(18254,29.5)(18739,29.69)(19365,29.89)(20515,30.1)(20999,30.28)(21538,30.5)(22129,30.68)(22613,30.87)(24390,31.03)(24983,31.15)(25629,31.28)(26113,31.45)(26649,31.64)(27221,31.85)(27834,32.01)(28458,32.18)(29019,32.4)(29555,32.64)(30000,32.64)
};
\addlegendentry{konc}
\end{axis}
\pgfresetboundingbox
\path ($(ax.south west)+(-46.5pt,-44pt)$) rectangle ($(ax.north east)+(47.5pt,9pt)$);
\end{tikzpicture}
\end{document}
